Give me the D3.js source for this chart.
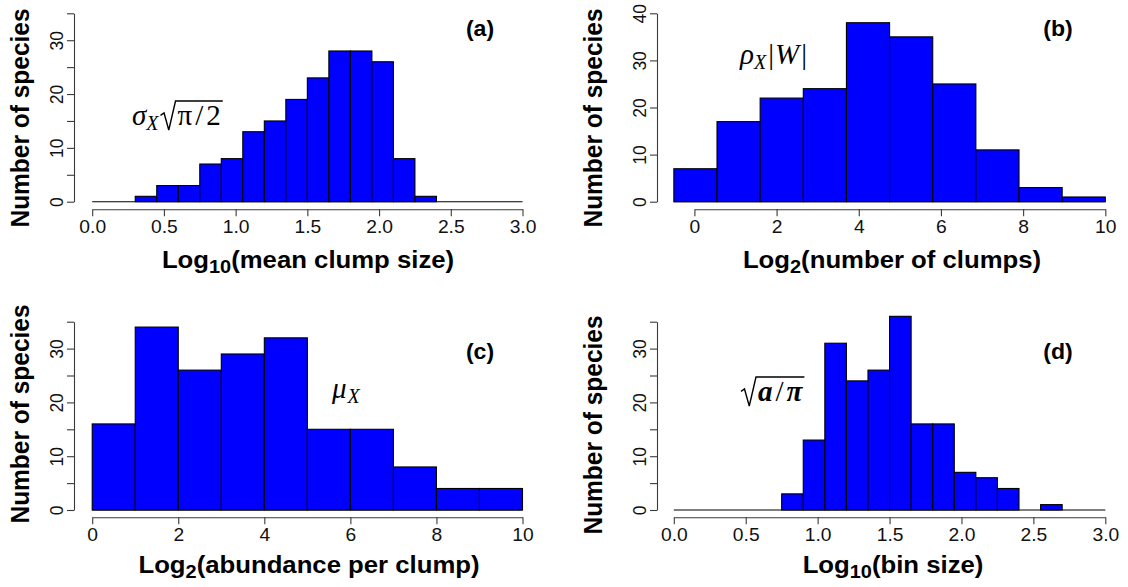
<!DOCTYPE html>
<html>
<head>
<meta charset="utf-8">
<script src="https://cdn.jsdelivr.net/npm/d3@7"></script>
<style>
  body { margin: 0; background: #fff; }
  svg { display: block; }
</style>
</head>
<body>
<svg id="fig" width="1128" height="587"></svg>
<script>
// ---- Histogram data -------------------------------------------------------
// (a) log10 of mean clump size, bins of width 0.15 from 0 to 3
const clumpSizeBreaks = d3.range(21).map(i => +(i * 0.15).toFixed(2));
const clumpSizeCounts = [0, 0, 1, 3, 3, 7, 8, 13, 15, 19, 23, 28, 28, 26, 8, 1, 0, 0, 0, 0];

// (b) log2 of number of clumps, bins of width 1.05 from -0.5 to 10
const clumpNumberBreaks = d3.range(11).map(i => +(-0.5 + i * 1.05).toFixed(2));
const clumpNumberCounts = [7, 17, 22, 24, 38, 35, 25, 11, 3, 1];

// (c) log2 of abundance per clump, unit bins from 0 to 10
const abundanceBreaks = d3.range(11);
const abundanceCounts = [16, 34, 26, 29, 32, 15, 15, 8, 4, 4];

// (d) log10 of bin size, bins of width 0.15 from 0 to 3
const binSizeBreaks = d3.range(21).map(i => +(i * 0.15).toFixed(2));
const binSizeCounts = [0, 0, 0, 0, 0, 3, 13, 31, 24, 26, 36, 16, 16, 7, 6, 4, 0, 1, 0, 0];

// Axis ticks
const log10Ticks = [0, 0.5, 1, 1.5, 2, 2.5, 3];
const log2Ticks = [0, 2, 4, 6, 8, 10];
const countTicks35 = d3.range(0, 36, 5);
const countTicks40 = [0, 10, 20, 30, 40];

// ---- Styling --------------------------------------------------------------
const SANS = "'Liberation Sans', Arial, Helvetica, sans-serif";
const SERIF = "'Liberation Serif', 'DejaVu Serif', serif";
const TICK_SX = 1.1;   // horizontal stretch of tick labels
const TITLE_SX = 1.05; // horizontal stretch of axis titles
const BAR_FILL = "#0000ff";
const AXIS_COLOR = "#3a3a3a";
const MATH = 29;       // formula font size
const MATH_SUB = 20;   // formula subscript size

const svg = d3.select("#fig");

function drawPanel(cfg) {
  const g = svg.append("g");
  const x = d3.scaleLinear().domain(cfg.xDomain).range(cfg.xRange);
  const y = d3.scaleLinear().domain(cfg.yDomain).range(cfg.yRange);
  const bins = cfg.counts.map((c, i) => ({ x0: cfg.breaks[i], x1: cfg.breaks[i + 1], n: c }));

  // baseline under the bars (empty bins show as a flat line)
  g.append("line")
    .attr("x1", x(cfg.breaks[0])).attr("x2", x(cfg.breaks[cfg.breaks.length - 1]))
    .attr("y1", y(0)).attr("y2", y(0))
    .attr("stroke", "#000").attr("stroke-width", 1.1);

  g.selectAll("rect.bar")
    .data(bins.filter(b => b.n > 0))
    .join("rect")
    .attr("class", "bar")
    .attr("x", b => x(b.x0))
    .attr("width", b => x(b.x1) - x(b.x0))
    .attr("y", b => y(b.n))
    .attr("height", b => y(0) - y(b.n))
    .attr("fill", BAR_FILL)
    .attr("stroke", "#000")
    .attr("stroke-width", 1.1);

  // x axis
  const gx = g.append("g")
    .attr("transform", `translate(0,${cfg.xAxisY})`)
    .call(d3.axisBottom(x).tickValues(cfg.xTicks).tickFormat(cfg.xFormat)
      .tickSize(7).tickSizeOuter(0).tickPadding(4));
  gx.selectAll("path, line").attr("stroke", AXIS_COLOR).attr("stroke-width", 1.1);
  gx.selectAll("text")
    .attr("font-family", SANS).attr("font-size", 17.5).attr("fill", "#111")
    .attr("transform", `scale(${TICK_SX},1)`);

  // y axis with rotated labels
  const gy = g.append("g")
    .attr("transform", `translate(${cfg.yAxisX},0)`)
    .call(d3.axisLeft(y).tickValues(cfg.yTicks)
      .tickFormat(d => (d % 10 === 0 ? d : ""))
      .tickSize(7).tickSizeOuter(0));
  gy.selectAll("path, line").attr("stroke", AXIS_COLOR).attr("stroke-width", 1.1);
  gy.selectAll("text")
    .attr("x", null).attr("dy", "0.35em")
    .attr("text-anchor", "middle")
    .attr("font-family", SANS).attr("font-size", 17.5).attr("fill", "#111")
    .attr("transform", `translate(-18,0) scale(${TICK_SX},1) rotate(-90)`);

  // x title with subscript
  const xt = g.append("text")
    .attr("transform", `translate(${cfg.xTitle.x},${cfg.xTitle.y}) scale(${TITLE_SX},1)`)
    .attr("text-anchor", "middle")
    .attr("font-family", SANS).attr("font-weight", "bold").attr("font-size", 24.5)
    .attr("fill", "#000");
  xt.append("tspan").text("Log");
  xt.append("tspan").attr("font-size", 19).attr("dy", 5).text(cfg.xTitle.sub);
  xt.append("tspan").attr("dy", -5).text(cfg.xTitle.rest);

  // y title
  g.append("text")
    .attr("transform", `translate(${cfg.yTitle.x},${cfg.yTitle.y}) scale(${TITLE_SX},1) rotate(-90)`)
    .attr("text-anchor", "middle").attr("dy", "0.35em")
    .attr("font-family", SANS).attr("font-weight", "bold").attr("font-size", 24.5)
    .attr("fill", "#000")
    .text("Number of species");

  // panel tag
  g.append("text")
    .attr("transform", `translate(${cfg.tag.x},${cfg.tag.y}) scale(${TITLE_SX},1)`)
    .attr("text-anchor", "middle")
    .attr("font-family", SANS).attr("font-weight", "bold").attr("font-size", 22)
    .attr("fill", "#000")
    .text(cfg.tag.t);

  // formula annotation
  const mg = g.append("g")
    .attr("transform", `translate(${cfg.math.x},${cfg.math.y})`)
    .attr("font-family", SERIF).attr("fill", "#000");
  layoutMath(mg, cfg.math.items, 0, 0);
}

// Lay out a row of math pieces; radicals get a drawn root sign and vinculum.
function layoutMath(g, items, x, base) {
  for (const it of items) {
    if (it.rad) {
      const h = it.h;
      const x0 = x;
      x += it.w0;
      const end = layoutMath(g, it.rad, x + 2, base);
      g.append("path")
        .attr("d", `M${x0},${base - h * 0.4} L${x0 + 3.5},${base - h * 0.5} L${x0 + it.w0 * 0.55},${base + 5} L${x0 + it.w0},${base - h} L${end + 2},${base - h}`)
        .attr("fill", "none").attr("stroke", "#000").attr("stroke-width", 1.4)
        .attr("stroke-linejoin", "miter");
      x = end + 2;
    } else {
      const t = g.append("text")
        .attr("x", x + (it.pre || 0)).attr("y", base + (it.dy || 0))
        .attr("font-size", it.size)
        .attr("font-style", it.italic ? "italic" : "normal")
        .attr("font-weight", it.bold ? "bold" : "normal")
        .text(it.t);
      x += (it.pre || 0) + t.node().getComputedTextLength() + (it.sp || 0);
    }
  }
  return x;
}

const panels = [
  {
    breaks: clumpSizeBreaks, counts: clumpSizeCounts,
    xDomain: [0, 3], xRange: [92.2, 522.5], yDomain: [0, 35], yRange: [201.7, 13.3],
    xAxisY: 209.3, yAxisX: 74, xTicks: log10Ticks, xFormat: d3.format(".1f"), yTicks: countTicks35,
    xTitle: { x: 308, y: 268, sub: "10", rest: "(mean clump size)" },
    yTitle: { x: 20, y: 118 },
    tag: { t: "(a)", x: 480, y: 36 },
    math: { x: 132, y: 125, items: [
      { t: "σ", size: MATH, italic: true },
      { t: "X", size: MATH_SUB, italic: true, dy: 5, sp: 2 },
      { rad: [{ t: "π", size: MATH }, { t: "/", size: MATH, pre: 3, sp: 3 }, { t: "2", size: MATH }], h: 24, w0: 15 }
    ] }
  },
  {
    breaks: clumpNumberBreaks, counts: clumpNumberCounts,
    xDomain: [0, 10], xRange: [694.4, 1105.3], yDomain: [0, 40], yRange: [201.7, 13.3],
    xAxisY: 209.3, yAxisX: 657, xTicks: log2Ticks, xFormat: d3.format("d"), yTicks: countTicks40,
    xTitle: { x: 892, y: 268, sub: "2", rest: "(number of clumps)" },
    yTitle: { x: 593, y: 118 },
    tag: { t: "(b)", x: 1058, y: 36 },
    math: { x: 740, y: 64, items: [
      { t: "ρ", size: MATH, italic: true },
      { t: "X", size: MATH_SUB, italic: true, dy: 5, sp: 2 },
      { t: "|", size: MATH, sp: 1 },
      { t: "W", size: MATH, italic: true, sp: 2 },
      { t: "|", size: MATH }
    ] }
  },
  {
    breaks: abundanceBreaks, counts: abundanceCounts,
    xDomain: [0, 10], xRange: [92.2, 522.5], yDomain: [0, 35], yRange: [510, 321.7],
    xAxisY: 517.3, yAxisX: 74, xTicks: log2Ticks, xFormat: d3.format("d"), yTicks: countTicks35,
    xTitle: { x: 309, y: 573, sub: "2", rest: "(abundance per clump)" },
    yTitle: { x: 20, y: 414 },
    tag: { t: "(c)", x: 480, y: 359 },
    math: { x: 332, y: 398, items: [
      { t: "μ", size: MATH, italic: true, sp: 1 },
      { t: "X", size: MATH_SUB, italic: true, dy: 5 }
    ] }
  },
  {
    breaks: binSizeBreaks, counts: binSizeCounts,
    xDomain: [0, 3], xRange: [673.8, 1105.3], yDomain: [0, 35], yRange: [510, 321.7],
    xAxisY: 517.3, yAxisX: 657, xTicks: log10Ticks, xFormat: d3.format(".1f"), yTicks: countTicks35,
    xTitle: { x: 893, y: 573, sub: "10", rest: "(bin size)" },
    yTitle: { x: 593, y: 425 },
    tag: { t: "(d)", x: 1058, y: 359 },
    math: { x: 741, y: 401, items: [
      { rad: [
        { t: "a", size: MATH, italic: true, bold: true },
        { t: "/", size: MATH, pre: 3, sp: 3 },
        { t: "π", size: MATH, italic: true, bold: true }
      ], h: 24, w0: 15 }
    ] }
  }
];

panels.forEach(drawPanel);
</script>
</body>
</html>
